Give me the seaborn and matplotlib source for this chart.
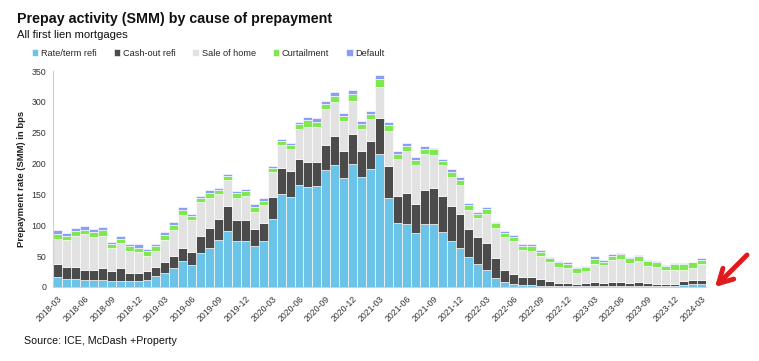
import matplotlib
matplotlib.use("Agg")
import matplotlib.pyplot as plt
import seaborn as sns
import pandas as pd
import numpy as np

# months 2018-03 .. 2024-03
months = [f"{y}-{m:02d}" for y in range(2018, 2025) for m in range(1, 13)]
months = months[months.index("2018-03"):months.index("2024-03") + 1]

# SMM in bps
rate_term = [16, 13.5, 12.5, 11, 11, 12, 9, 10, 9, 9, 12, 18, 23, 30, 42, 35, 55, 63, 76, 90,
             74, 75, 66, 75, 111, 151, 146, 165, 162, 164, 189, 197, 177, 200, 179, 192, 216, 145,
             104, 102, 87, 102, 102, 89, 75, 63, 49, 38, 28, 15, 8, 5, 3, 3, 2, 2, 1, 1, 1, 1,
             1.5, 1, 1.5, 1.5, 1, 1.5, 1, 1, 1, 1, 4, 5, 5]
cash_out = [22, 18.5, 20, 17, 17, 19, 16.5, 20, 14, 14, 13.5, 15, 17, 20, 22, 21, 28, 32, 34, 41,
            34, 34, 28, 29, 35, 42, 42, 42, 40, 38, 42, 47, 44, 48, 41, 45, 58, 51,
            44, 50, 48, 55, 59, 58, 57, 55, 45, 43, 44, 32, 20, 16, 13, 13, 11, 8, 6, 5, 4.5, 5.5,
            7, 6, 7, 7, 6, 7, 5, 4.5, 4.5, 4.5, 5, 6, 6.5]
sale_home = [40, 44, 50.5, 58, 53, 51, 37.5, 41, 36, 34, 25.5, 26, 37, 43, 52, 52, 55, 50, 40, 42,
             37, 38, 28, 29, 40, 37, 35, 49, 58, 58, 57, 56, 48, 54, 36, 36, 51, 57,
             59, 69, 63, 59, 53, 50, 47, 47, 31, 31, 46, 48, 53, 53, 44, 42, 37, 31, 26, 24, 17.5, 19.5,
             29.5, 28, 34.5, 37, 32.5, 33, 28, 27.5, 21.5, 22, 19, 20, 25.5]
curtailment = [8, 7, 8.5, 7, 8, 11, 7, 7, 8, 7, 7, 8, 7.5, 8, 9, 7, 7, 8, 8, 7,
               8, 8, 8, 7, 7, 7, 7, 8, 10, 8, 8, 9, 8, 11, 9, 8, 12, 10,
               8, 8, 8, 8, 9, 7, 8, 9, 8, 7, 8, 8, 7, 7, 7, 9, 7, 6, 7, 8, 8, 6.5,
               8, 6, 8, 7.5, 7.5, 8, 8, 7.5, 7.5, 9, 9, 9, 7.5]
default = [7, 5, 4.5, 5.6, 5, 5, 3, 5, 3, 5, 4, 3, 4.5, 5, 4, 4, 3, 4, 3, 4,
           3, 4, 4, 5, 3, 3, 3, 3, 6, 6, 6, 7, 5, 6, 4, 5, 6, 5,
           5, 5, 5, 5, 3, 4, 4, 4, 3, 2, 4, 3, 2, 3, 2, 2, 3, 2, 1.5, 2, 1, 2,
           3.5, 2, 3, 2, 2, 2.5, 2, 1.5, 1.5, 2, 1.5, 1, 3]

series = [("Rate/term refi", rate_term, "#6CC3E8"),
          ("Cash-out refi", cash_out, "#4B4B4B"),
          ("Sale of home", sale_home, "#E2E2E2"),
          ("Curtailment", curtailment, "#7EE84F"),
          ("Default", default, "#8C9EF4")]

df = pd.DataFrame({"month": months})
for name, vals, _ in series:
    df[name] = vals

sns.set_style("white")
plt.rcParams["font.family"] = ["Liberation Sans", "DejaVu Sans"]

fig = plt.figure(figsize=(7.59, 3.61), dpi=100)
ax = fig.add_axes([0.070, 0.205, 0.860, 0.598])

bottom = np.zeros(len(df))
for name, vals, color in series:
    sns.barplot(data=df, x="month", y=name, order=months, color=color, saturation=1,
                width=1.0, edgecolor="white", linewidth=0.45, bottom=bottom, label=name, ax=ax)
    bottom = bottom + df[name].values

ax.set_ylim(0, 350)
ax.set_xlim(-0.5, len(months) - 0.5)
ax.set_yticks(range(0, 351, 50))
ax.set_xticks(range(0, len(months), 3))
ax.set_xticklabels(months[::3], rotation=45, ha="right", rotation_mode="anchor")
ax.tick_params(axis="both", labelsize=6.3, length=3, width=0.6, pad=2)
ax.tick_params(axis="x", colors="#d0d0d0", labelcolor="#333333")
ax.tick_params(axis="y", colors="#d0d0d0", labelcolor="#333333")
ax.set_xlabel("")
ax.set_ylabel("Prepayment rate (SMM) in bps", fontsize=6.8, fontweight="bold", color="#222222", labelpad=4)
for s in ["top", "right"]:
    ax.spines[s].set_visible(False)
for s in ["left", "bottom"]:
    ax.spines[s].set_color("#d0d0d0")
    ax.spines[s].set_linewidth(0.8)
if ax.legend_:
    ax.legend_.remove()

handles, labels = ax.get_legend_handles_labels()
fig.legend(handles, labels, loc="center left", bbox_to_anchor=(0.037, 1 - 53 / 361), ncol=5, frameon=False,
           fontsize=6.6, handlelength=0.7, handleheight=0.7, handletextpad=0.3, columnspacing=1.85,
           borderaxespad=0)

fig.text(17 / 759, 1 - 19 / 361, "Prepay activity (SMM) by cause of prepayment", fontsize=10.3,
         fontweight="bold", color="#111111", va="center")
fig.text(17 / 759, 1 - 35 / 361, "All first lien mortgages", fontsize=8.1, color="#111111", va="center")
fig.text(24 / 759, 1 - 341 / 361, "Source: ICE, McDash +Property", fontsize=7.7, color="#111111", va="center")

# red arrow pointing at the latest month
ax.annotate("", xy=(713 / 759, 1 - 289 / 361), xytext=(749 / 759, 1 - 253 / 361),
            xycoords="figure fraction", textcoords="figure fraction",
            arrowprops=dict(arrowstyle="->,head_length=1.0,head_width=0.55", color="#e01b1b",
                            lw=3.5, capstyle="round", joinstyle="round"), annotation_clip=False)

fig.savefig("out.png", dpi=100)
